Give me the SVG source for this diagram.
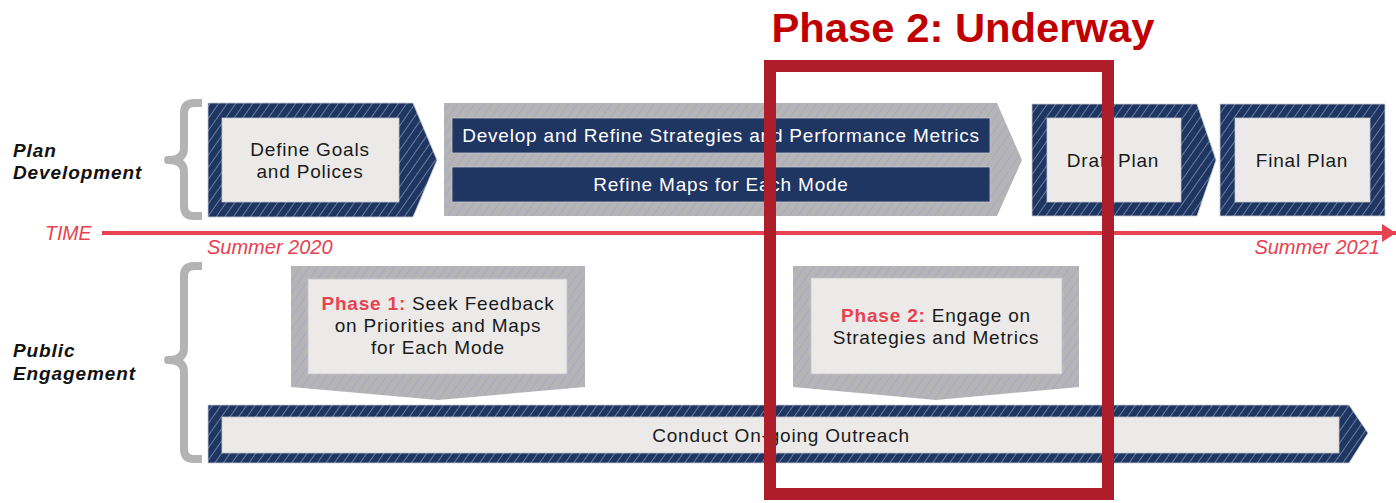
<svg xmlns="http://www.w3.org/2000/svg" width="1396" height="503" viewBox="0 0 1396 503">
<defs>
<pattern id="hNavy" patternUnits="userSpaceOnUse" width="7" height="10" patternTransform="rotate(35)">
<rect width="7" height="10" fill="#1F3562"/>
<line x1="0.5" y1="0" x2="0.5" y2="10" stroke="#6A7DA0" stroke-width="1"/>
</pattern>
<pattern id="hGray" patternUnits="userSpaceOnUse" width="7" height="10" patternTransform="rotate(35)">
<rect width="7" height="10" fill="#B5B5B5"/>
<line x1="0.5" y1="0" x2="0.5" y2="10" stroke="#A9A8C8" stroke-width="1"/>
</pattern>
<marker id="arr" markerUnits="userSpaceOnUse" markerWidth="16" markerHeight="18" refX="14" refY="9" orient="auto">
<path d="M0,0 L14,9 L0,18 Z" fill="#E8414F"/>
</marker>
<style>
.navy{fill:url(#hNavy);stroke:#C9CCD6;stroke-width:0.8}
.gray{fill:url(#hGray)}
.inner{fill:#EBEAE9;stroke:#C4C6CC;stroke-width:0.8}
.bar{fill:#1F3562;stroke:#C4C6CC;stroke-width:0.8}
.t{font-family:"Liberation Sans",Arial,sans-serif;font-size:19px;letter-spacing:0.8px;fill:#1A1A1A;text-anchor:middle}
.w{fill:#FFFFFF}
.red{fill:#E8414F;font-weight:bold}
.lab{font-family:"Liberation Sans",Arial,sans-serif;font-size:19px;letter-spacing:0.9px;font-weight:bold;font-style:italic;fill:#111}
.time{font-family:"Liberation Sans",Arial,sans-serif;font-style:italic;fill:#E8414F}
.brace{fill:none;stroke:#B3B3B3;stroke-width:8;stroke-linejoin:round}
</style>
</defs>

<g id="labels">
<text class="lab" x="13" y="157">Plan</text>
<text class="lab" x="13" y="179">Development</text>
<text class="lab" x="13" y="357">Public</text>
<text class="lab" x="13" y="380">Engagement</text>
<path class="brace" d="M202,103 L194,103 Q184,103 184,113 L184,148 Q184,160 168,160 Q184,160 184,172 L184,206 Q184,216 194,216 L202,216"/>
<path class="brace" d="M202,266 L194,266 Q184,266 184,276 L184,348 Q184,360 168,360 Q184,360 184,372 L184,449 Q184,459 194,459 L202,459"/>
</g>

<g id="connectors">
<line x1="102" y1="233" x2="1396" y2="233" stroke="#E8414F" stroke-width="4" marker-end="url(#arr)"/>
<text class="time" x="45" y="240" font-size="19.5">TIME</text>
<text class="time" x="207" y="254" font-size="20">Summer 2020</text>
<text class="time" x="1380" y="254" font-size="20" text-anchor="end">Summer 2021</text>
</g>

<g id="define-goals">
<path class="navy" d="M208,103 L413,103 L437,160 L413,217 L208,217 Z"/>
<rect class="inner" x="222" y="118" width="177" height="84"/>
<text class="t" x="310" y="156">Define Goals</text>
<text class="t" x="310" y="178">and Polices</text>
</g>

<g id="develop-refine">
<path class="gray" d="M444,103 L997,103 L1022,160 L997,216 L444,216 Z"/>
<rect class="bar" x="452" y="118" width="538" height="35"/>
<rect class="bar" x="452" y="167" width="538" height="35"/>
<text class="t w" x="721" y="142">Develop and Refine Strategies and Performance Metrics</text>
<text class="t w" x="721" y="191">Refine Maps for Each Mode</text>
</g>

<g id="draft-plan">
<path class="navy" d="M1032,104 L1197,104 L1216,160 L1197,216 L1032,216 Z"/>
<rect class="inner" x="1047" y="118" width="134" height="84"/>
<text class="t" x="1113" y="167">Draft Plan</text>
</g>

<g id="final-plan">
<rect class="navy" x="1220" y="104" width="165" height="112"/>
<rect class="inner" x="1235" y="118" width="135" height="84"/>
<text class="t" x="1302" y="167">Final Plan</text>
</g>

<g id="phase1">
<path class="gray" d="M291,266 L585,266 L585,387 L438,400 L291,387 Z"/>
<rect class="inner" x="308" y="279" width="259" height="95"/>
<text class="t" x="438" y="310"><tspan class="red">Phase 1:</tspan> Seek Feedback</text>
<text class="t" x="438" y="332">on Priorities and Maps</text>
<text class="t" x="438" y="354">for Each Mode</text>
</g>

<g id="phase2">
<path class="gray" d="M793,266 L1079,266 L1079,387 L936,400 L793,387 Z"/>
<rect class="inner" x="811" y="278" width="251" height="96"/>
<text class="t" x="936" y="322"><tspan class="red">Phase 2:</tspan> Engage on</text>
<text class="t" x="936" y="344">Strategies and Metrics</text>
</g>

<g id="outreach">
<path class="navy" d="M208,405 L1349,405 L1368,433 L1349,463 L208,463 Z"/>
<rect class="inner" x="222" y="417" width="1117" height="36"/>
<text class="t" x="781" y="442">Conduct On-going Outreach</text>
</g>

<g id="phase2-highlight">
<rect x="770" y="66" width="338" height="428" fill="none" stroke="#AE1E2A" stroke-width="12"/>
<text x="963" y="42" text-anchor="middle" font-family="'Liberation Sans',Arial,sans-serif" font-weight="bold" font-size="40" fill="#C00000" textLength="383" lengthAdjust="spacingAndGlyphs">Phase 2: Underway</text>
</g>
</svg>
